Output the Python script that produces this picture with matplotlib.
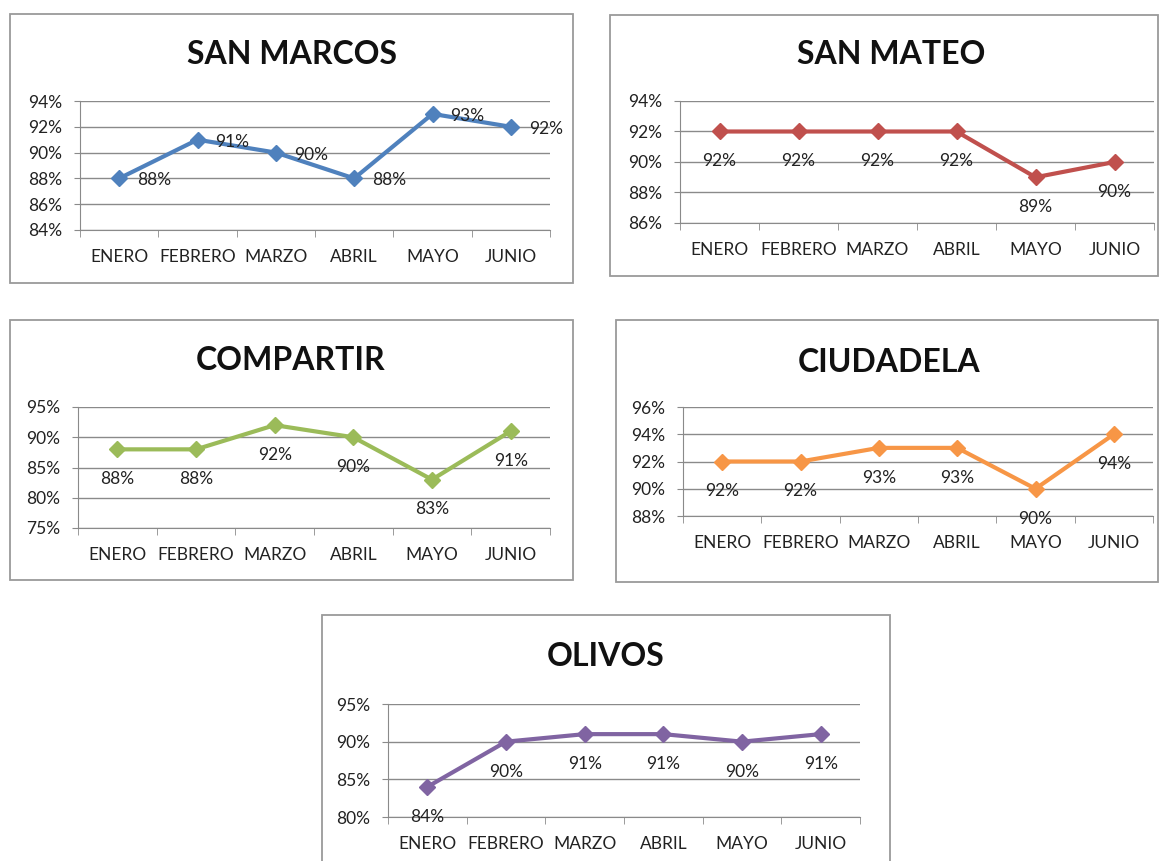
import matplotlib.pyplot as plt
from matplotlib.patches import Rectangle
from matplotlib.ticker import FuncFormatter, MultipleLocator, FixedLocator

plt.rcParams['font.family'] = ['Lato', 'DejaVu Sans']

meses = ['ENERO', 'FEBRERO', 'MARZO', 'ABRIL', 'MAYO', 'JUNIO']

san_marcos = [0.88, 0.91, 0.90, 0.88, 0.93, 0.92]
san_mateo = [0.92, 0.92, 0.92, 0.92, 0.89, 0.90]
compartir = [0.88, 0.88, 0.92, 0.90, 0.83, 0.91]
ciudadela = [0.92, 0.92, 0.93, 0.93, 0.90, 0.94]
olivos = [0.84, 0.90, 0.91, 0.91, 0.90, 0.91]

W, H = 1159, 861
fig = plt.figure(figsize=(W / 100, H / 100), dpi=100)
fig.patch.set_facecolor('white')


def px_rect(l, t, r, b):
    return [l / W, 1 - b / H, (r - l) / W, (b - t) / H]


def add_box(l, t, r, b):
    fig.patches.append(Rectangle((l / W, 1 - b / H), (r - l) / W, (b - t) / H,
                                 transform=fig.transFigure, fill=False,
                                 edgecolor='#9a9a9a', linewidth=1.3))


def panel(title, values, color, plot_px, box_px, title_xy, ylim, ystep, label_pos):
    add_box(*box_px)
    fig.text(title_xy[0] / W, 1 - title_xy[1] / H, title, ha='center', va='center',
             fontsize=23, fontweight='bold', color='#111111')
    ax = fig.add_axes(px_rect(*plot_px))
    x = list(range(len(meses)))
    ax.plot(x, values, color=color, linewidth=3.0, marker='D', markersize=8,
            clip_on=False, zorder=3)
    ax.set_xlim(-0.5, len(meses) - 0.5)
    ax.set_ylim(*ylim)
    ax.yaxis.set_major_locator(MultipleLocator(ystep))
    ax.yaxis.set_major_formatter(FuncFormatter(lambda v, p: f'{round(v * 100):d}%'))
    ax.yaxis.grid(True, color='#8a8a8a', linewidth=1.0)
    ax.set_axisbelow(True)
    ax.set_xticks(x)
    ax.set_xticklabels(meses)
    ax.xaxis.set_minor_locator(FixedLocator([i - 0.5 for i in range(len(meses) + 1)]))
    ax.tick_params(axis='x', which='major', length=0, pad=14, labelsize=12.5, labelcolor='#222222')
    ax.tick_params(axis='x', which='minor', length=5, color='#8a8a8a', direction='out')
    ax.tick_params(axis='y', length=4, color='#8a8a8a', labelsize=12.5, labelcolor='#222222', pad=9)
    for s in ['top', 'right']:
        ax.spines[s].set_visible(False)
    ax.spines['left'].set_color('#8a8a8a')
    ax.spines['bottom'].set_color('#8a8a8a')
    ax.patch.set_alpha(0)
    for xi, v in zip(x, values):
        txt = f'{round(v * 100):d}%'
        if label_pos == 'right':
            ax.annotate(txt, (xi, v), xytext=(13, -1.5), textcoords='offset points',
                        ha='left', va='center', fontsize=12.5, color='#222222',
                        annotation_clip=False)
        else:
            ax.annotate(txt, (xi, v), xytext=(0, -21.5), textcoords='offset points',
                        ha='center', va='center', fontsize=12.5, color='#222222',
                        annotation_clip=False)
    return ax


panel('SAN MARCOS', san_marcos, '#4F81BD', (80, 101, 550, 230), (10, 14, 573, 283),
      (292, 55), (0.84, 0.94), 0.02, 'right')
panel('SAN MATEO', san_mateo, '#C0504D', (680, 101, 1154, 223), (610, 15, 1158, 276),
      (891, 55), (0.86, 0.94), 0.02, 'below')
panel('COMPARTIR', compartir, '#9BBB59', (78, 407, 550, 528), (10, 320, 573, 580),
      (291, 360), (0.75, 0.95), 0.05, 'below')
panel('CIUDADELA', ciudadela, '#F79646', (683, 407, 1153, 516), (616, 320, 1158, 582),
      (889, 362), (0.88, 0.96), 0.02, 'below')
panel('OLIVOS', olivos, '#8064A2', (388, 704, 860, 817), (322, 615, 890, 870),
      (606, 657), (0.80, 0.95), 0.05, 'below')

fig.savefig('out.png', dpi=100, facecolor='white')
